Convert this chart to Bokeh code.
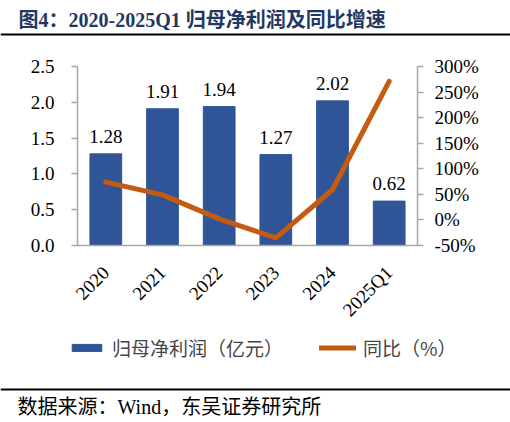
from bokeh.core.properties import value
from bokeh.embed import file_html
from bokeh.layouts import column
from bokeh.models import (FactorRange, FixedTicker, Legend, LegendItem, LinearAxis,
                          NumeralTickFormatter, PrintfTickFormatter, Range1d, Span)
from bokeh.plotting import figure
from bokeh.resources import INLINE

years = ["2020", "2021", "2022", "2023", "2024", "2025Q1"]
profit = [1.28, 1.91, 1.94, 1.27, 2.02, 0.62]
yoy = [74, 49, 2, -35, 59, 271]
profit_ticks = [0, 0.5, 1.0, 1.5, 2.0, 2.5]
yoy_ticks = [-50, 0, 50, 100, 150, 200, 250, 300]

title_text = "图4：2020-2025Q1 归母净利润及同比增速"
source_text = "数据来源：Wind，东吴证券研究所"
bar_name = "归母净利润（亿元）"
line_name = "同比（%）"

SERIF = "Liberation Serif"
MIXED = "Liberation Serif, Noto Sans CJK SC"
CJK = "Noto Sans CJK SC"
blue = "#2F5597"
orange = "#C55A11"
grey = "#A6A6A6"
nan = float("nan")

W = 510


def strip(h):
    # a plain figure whose frame is the whole canvas, one unit per pixel
    f = figure(width=W, height=h, x_range=Range1d(0, W), y_range=Range1d(h, 0),
               output_backend="svg", toolbar_location=None, min_border=0, frame_align=False)
    f.title.visible = False
    f.axis.visible = False
    f.grid.visible = False
    f.outline_line_color = None
    return f


# header: title and rule
head = strip(40)
head.text(x=[18], y=[19], text=[title_text], text_font=value(MIXED), text_font_style="bold",
          text_font_size="20px", text_color="#1F3864", text_baseline="middle")
head.add_layout(Span(location=34, dimension="width", line_color="black", line_width=2))

# main chart, frame 340 x 182 at (77, 66) on the page
p = figure(width=W, height=290, x_range=FactorRange(*years), y_range=Range1d(0, 2.5),
           output_backend="svg", toolbar_location=None, frame_align=False,
           min_border_left=77, min_border_right=93, min_border_top=26, min_border_bottom=82)
p.title.visible = False
p.extra_y_ranges = {"pct": Range1d(-50, 300)}
p.grid.visible = False
p.outline_line_color = None
p.yaxis.visible = False

p.vbar(x=years, top=profit, width=0.56, color=blue)
p.line(x=years, y=yoy, y_range_name="pct", line_width=5, color=orange,
       line_cap="round", line_join="round")
p.text(x=years, y=profit, text=[f"{v:.2f}" for v in profit], text_font=value(SERIF),
       text_font_size="19px", text_align="center", text_baseline="bottom", y_offset=-11)

left = LinearAxis(ticker=FixedTicker(ticks=profit_ticks), formatter=NumeralTickFormatter(format="0.0"))
right = LinearAxis(y_range_name="pct", ticker=FixedTicker(ticks=yoy_ticks),
                   formatter=PrintfTickFormatter(format="%d%%"))
p.add_layout(left, "left")
p.add_layout(right, "right")

for ax in [left, right]:
    ax.axis_line_color = grey
    ax.axis_line_width = 1.5
    ax.major_tick_line_color = grey
    ax.major_tick_line_width = 1.5
    ax.major_tick_in = 0
    ax.major_tick_out = 6
    ax.minor_tick_line_color = None
    ax.major_label_text_font = SERIF
    ax.major_label_text_font_size = "19px"
    ax.major_label_text_color = "black"
left.major_label_standoff = 17
right.major_label_standoff = 11

p.xaxis.axis_line_color = grey
p.xaxis.axis_line_width = 1.5
p.xaxis.major_tick_line_color = None
p.xaxis.minor_tick_line_color = None
p.xaxis.major_label_orientation = 0.785
p.xaxis.major_label_text_font = SERIF
p.xaxis.major_label_text_font_size = "19px"
p.xaxis.major_label_text_color = "black"
p.xaxis.major_label_standoff = 18

# footer: legend, rule and source note
foot = strip(92)
key_bar = foot.vbar(x=[nan], top=[nan], width=1, color=blue)
key_line = foot.line(x=[nan], y=[nan], line_width=5, color=orange, line_cap="round")
legend = Legend(items=[LegendItem(label=bar_name, renderers=[key_bar]),
                       LegendItem(label=line_name, renderers=[key_line])],
                orientation="horizontal", location=(68, 61), padding=0, margin=0,
                spacing=36, label_standoff=7, glyph_width=37, glyph_height=9,
                border_line_color=None, background_fill_alpha=0,
                label_text_font=CJK, label_text_font_size="19px")
foot.add_layout(legend)
foot.add_layout(Span(location=59, dimension="width", line_color="black", line_width=2))
foot.text(x=[17], y=[76], text=[source_text], text_font=value(MIXED), text_font_size="20px",
          text_color="black", text_baseline="middle")

page = column(head, p, foot, spacing=0)
open("out.html", "w").write(file_html(page, INLINE))
